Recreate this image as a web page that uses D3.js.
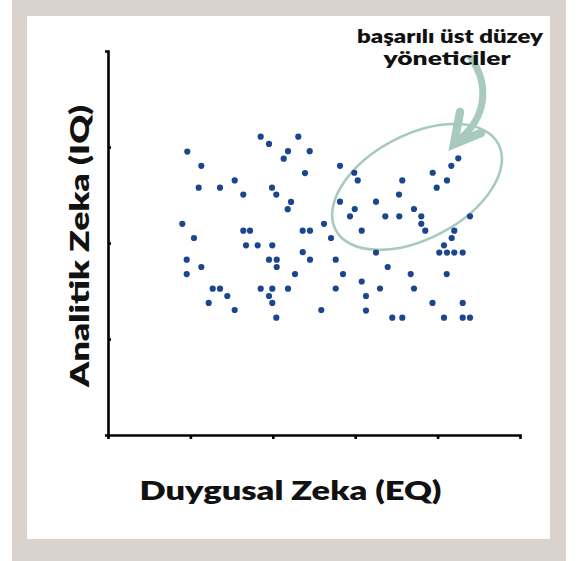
<!DOCTYPE html>
<html><head><meta charset="utf-8">
<script src="https://cdn.jsdelivr.net/npm/d3@7"></script>
<style>html,body{margin:0;padding:0;background:#fff;}svg{display:block;}</style>
</head><body>
<svg id="chart" width="580" height="561"></svg>
<script>
// Data (0–100 arbitrary units on both axes)
const eqValues = [37.06,46.19,39.08,19.25,43.69,48.96,42.65,22.65,47.82,30.75,22.01,27.18,39.81,32.84,40.85,44.42,43.62,18.03,52.43,32.84,34.47,47.26,49.03,20.87,54.13,33.50,36.33,39.88,47.26,19.10,39.08,40.95,49.03,22.65,40.95,19.10,45.39,25.41,27.18,37.06,39.88,43.69,28.96,39.08,24.44,39.88,30.75,51.77,40.85,55.27,61.58,66.02,74.27,62.62,78.76,86.09,62.62,69.00,71.43,81.55,86.09,87.86,85.02,83.33,56.31,78.81,59.78,60.61,71.43,82.28,79.78,70.63,56.31,65.05,59.88,74.27,58.74,67.31,70.70,76.04,87.86,76.04,61.58,77.01,84.05,83.42,81.55,65.05,80.41,82.28,84.05,86.09,55.27,67.89,57.04,73.47,82.21];
const iqValues = [77.7,77.7,75.8,73.8,73.9,73.9,71.95,70.1,68.2,66.3,64.4,64.4,64.4,62.6,62.6,60.7,58.8,55.0,55.0,53.2,53.2,53.2,53.2,51.3,51.3,49.4,49.4,49.4,47.6,45.65,45.65,45.65,45.65,43.75,43.75,41.9,41.9,38.1,38.1,38.1,38.1,38.1,36.2,36.2,34.4,34.4,32.55,32.55,30.55,38.15,39.97,38.15,38.15,36.2,34.4,34.4,32.4,30.55,30.55,30.55,30.55,30.55,72.05,70.1,70.1,68.3,68.3,66.3,66.3,66.3,64.4,62.6,60.75,60.75,58.85,58.85,56.95,56.95,56.95,56.95,56.95,55.0,53.2,53.2,53.2,51.3,49.4,47.5,47.5,47.5,47.5,47.5,45.65,43.75,41.9,41.9,41.9];
const xTicks = [20,40,60,80];
const yTicks = [25,50,75];
const xTitle = "Duygusal Zeka (EQ)";
const yTitle = "Analitik Zeka (IQ)";
const noteLines = ["başarılı üst düzey","yöneticiler"];
const highlightCenter = [75, 64.6]; // EQ, IQ of highlighted group centre

const svg = d3.select("#chart");
// frame
svg.append("rect").attr("x",12).attr("y",0).attr("width",554).attr("height",561).attr("fill","#d9d2cd");
svg.append("rect").attr("x",27).attr("y",16).attr("width",523).attr("height",523).attr("fill","#ffffff");

const x = d3.scaleLinear().domain([0,100]).range([108,520]);
const y = d3.scaleLinear().domain([0,100]).range([435,51]);

const xAxis = d3.axisBottom(x).tickValues(xTicks).tickFormat("").tickSizeInner(4).tickSizeOuter(4);
const yAxis = d3.axisLeft(y).tickValues(yTicks).tickFormat("").tickSizeInner(-3).tickSizeOuter(3);

const gx = svg.append("g").attr("transform","translate(0,435)").call(xAxis);
const gy = svg.append("g").attr("transform","translate(108,0)").call(yAxis);
[gx,gy].forEach(g=>{
  g.select(".domain").attr("stroke","#000").attr("stroke-width",2.6);
  g.selectAll(".tick line").attr("stroke","#000").attr("stroke-width",2.6);
});

const green = "#a8cabd";
// highlight ellipse
const cx = x(highlightCenter[0]), cy = y(highlightCenter[1]);
svg.append("ellipse").attr("cx",cx).attr("cy",cy).attr("rx",92).attr("ry",52)
  .attr("transform",`rotate(-27.8,${cx},${cy})`)
  .attr("fill","none").attr("stroke",green).attr("stroke-width",2.6);

// points
const pts = eqValues.map((v,i)=>({eq:v, iq:iqValues[i]}));
svg.append("g").selectAll("circle").data(pts).join("circle")
  .attr("cx",d=>x(d.eq)).attr("cy",d=>y(d.iq)).attr("r",3.1).attr("fill","#1b468f");

// arrow
svg.append("path").attr("d","M471,58 C489,84 488,118 457,141")
  .attr("fill","none").attr("stroke",green).attr("stroke-width",7).attr("stroke-linecap","round");
svg.append("path").attr("d","M460,112 L454,144 L481,133")
  .attr("fill","none").attr("stroke",green).attr("stroke-width",8.5).attr("stroke-linejoin","miter").attr("stroke-linecap","round");

// note text
const font = "Lato, 'Open Sans', sans-serif";
svg.append("text").attr("x",450).attr("y",43).attr("text-anchor","middle")
  .attr("font-family",font).attr("font-weight",800).attr("font-size",18.5).attr("fill","#111")
  .attr("textLength",186).attr("lengthAdjust","spacingAndGlyphs").text(noteLines[0]);
svg.append("text").attr("x",447).attr("y",65).attr("text-anchor","middle")
  .attr("font-family",font).attr("font-weight",800).attr("font-size",18.5).attr("fill","#111")
  .attr("textLength",127).attr("lengthAdjust","spacingAndGlyphs").text(noteLines[1]);

// axis titles
svg.append("text").attr("x",290.5).attr("y",500).attr("text-anchor","middle")
  .attr("font-family",font).attr("font-weight",800).attr("font-size",26).attr("fill","#111")
  .attr("textLength",302).attr("lengthAdjust","spacingAndGlyphs").text(xTitle);
svg.append("text").attr("transform","translate(89,246) rotate(-90)").attr("text-anchor","middle")
  .attr("font-family",font).attr("font-weight",800).attr("font-size",26).attr("fill","#111")
  .attr("textLength",282).attr("lengthAdjust","spacingAndGlyphs").text(yTitle);
</script>
</body></html>
